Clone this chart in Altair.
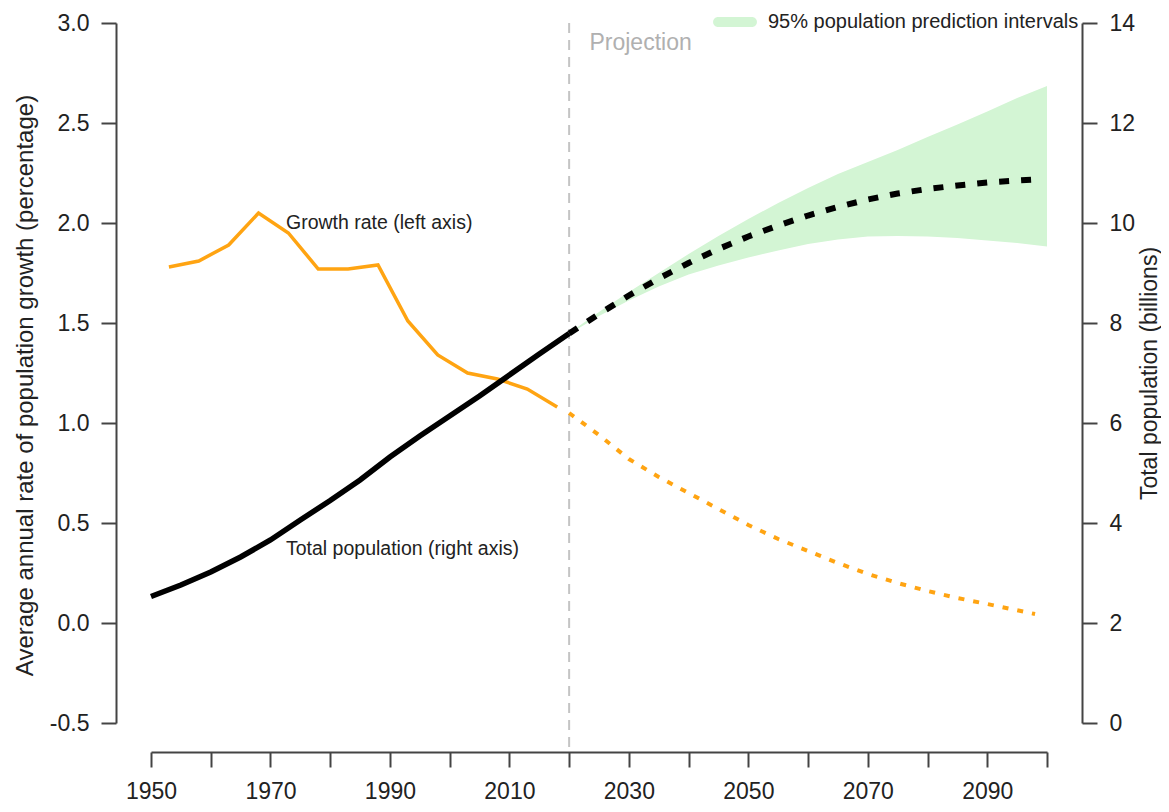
import altair as alt
import pandas as pd

FONT = "Liberation Sans"

# ---- Growth rate (left axis), observed (5-year period midpoints) ----
gr_years = [1953, 1958, 1963, 1968, 1973, 1978, 1983, 1988, 1993, 1998, 2003, 2008, 2013, 2018]
gr_values = [1.78, 1.81, 1.89, 2.05, 1.95, 1.77, 1.77, 1.79, 1.51, 1.34, 1.25, 1.22, 1.17, 1.08]

# ---- Growth rate, projection ----
grp_years = [2020, 2025, 2030, 2035, 2040, 2045, 2050, 2055, 2060, 2065, 2070, 2075, 2080, 2085, 2090, 2098]
grp_values = [1.05, 0.94, 0.82, 0.73, 0.65, 0.57, 0.49, 0.42, 0.36, 0.30, 0.245, 0.20, 0.16, 0.125, 0.095, 0.045]

# ---- Total population (right axis, billions), observed ----
pop_years = [1950, 1955, 1960, 1965, 1970, 1975, 1980, 1985, 1990, 1995, 2000, 2005, 2010, 2015, 2020]
pop_values = [2.53, 2.76, 3.02, 3.32, 3.66, 4.06, 4.45, 4.86, 5.32, 5.74, 6.14, 6.54, 6.96, 7.38, 7.79]

# ---- Total population, median projection ----
popp_years = [2020, 2025, 2030, 2035, 2040, 2045, 2050, 2055, 2060, 2065, 2070, 2075, 2080, 2085, 2090, 2095, 2098]
popp_values = [7.79, 8.18, 8.55, 8.89, 9.20, 9.48, 9.73, 9.95, 10.15, 10.32, 10.47, 10.59, 10.68, 10.75, 10.81, 10.85, 10.87]

# ---- 95% prediction interval ----
band_years = [2020, 2025, 2030, 2035, 2040, 2045, 2050, 2055, 2060, 2065, 2070, 2075, 2080, 2085, 2090, 2095, 2100]
band_low = [7.78, 8.14, 8.45, 8.73, 8.97, 9.15, 9.31, 9.45, 9.58, 9.67, 9.73, 9.74, 9.73, 9.70, 9.65, 9.60, 9.53]
band_high = [7.80, 8.22, 8.62, 9.00, 9.38, 9.74, 10.08, 10.40, 10.70, 10.98, 11.22, 11.46, 11.72, 11.97, 12.23, 12.50, 12.74]
band_label = "95% population prediction intervals"

# ---- annotations ----
ann_texts = ["Growth rate (left axis)", "Total population (right axis)"]
ann_years = [1972.6, 1972.6]
ann_rates = [2.0, 0.37]
proj_text = ["Projection"]
proj_year = [2023.4]
proj_rate = [2.9]
proj_line_year = [2020]
proj_line_top = [3.0]
proj_line_bottom = [-0.645]

x_ticks = list(range(1950, 2101, 10))
left_ticks = [-0.5, 0.0, 0.5, 1.0, 1.5, 2.0, 2.5, 3.0]
right_ticks = [0, 2, 4, 6, 8, 10, 12, 14]

df_gr = pd.DataFrame({"year": gr_years, "rate": gr_values})
df_grp = pd.DataFrame({"year": grp_years, "rate": grp_values})
df_pop = pd.DataFrame({"year": pop_years, "pop": pop_values})
df_popp = pd.DataFrame({"year": popp_years, "pop": popp_values})
df_band = pd.DataFrame({"year": band_years, "pop": band_low, "pop2": band_high,
                        "series": [band_label] * len(band_years)})
df_ann = pd.DataFrame({"year": ann_years, "rate": ann_rates, "text": ann_texts})
df_proj = pd.DataFrame({"year": proj_year, "rate": proj_rate, "text": proj_text})
df_vline = pd.DataFrame({"year": proj_line_year, "rate": proj_line_top, "rate2": proj_line_bottom})

AX = "#444444"
TXT = "#222222"
TICK_FS = 23

x_enc = alt.X(
    "year:Q",
    scale=alt.Scale(domain=[1950, 2100], nice=False, zero=False),
    axis=alt.Axis(
        values=x_ticks, format="d",
        labelExpr="(datum.value - 1950) % 20 == 0 ? format(datum.value, 'd') : ''",
        title=None, grid=False, offset=29, tickSize=15, tickWidth=2, domainWidth=2,
        domainColor=AX, tickColor=AX, labelFontSize=TICK_FS, labelFont=FONT, labelColor=TXT,
        labelPadding=13, labelFlush=False, labelOverlap=False,
    ),
)

left_scale = alt.Scale(domain=[-0.5, 3.0], nice=False, zero=False)
left_axis = alt.Axis(
    orient="left", values=left_ticks,
    labelExpr="datum.value < 0 ? '-' + format(-datum.value, '.1f') : format(datum.value, '.1f')",
    title="Average annual rate of population growth (percentage)",
    grid=False, offset=35, tickSize=15, tickWidth=2, domainWidth=2,
    domainColor=AX, tickColor=AX, labelFontSize=TICK_FS, labelFont=FONT, labelColor=TXT,
    labelPadding=12, titleFontSize=24, titleFont=FONT, titleFontWeight="normal",
    titleColor=TXT, titlePadding=12, titleY=362, titleAlign="center",
    labelFlush=False, labelOverlap=False,
)
y_left = alt.Y("rate:Q", scale=left_scale, axis=left_axis)

right_scale = alt.Scale(domain=[0, 14], nice=False, zero=False)
right_axis = alt.Axis(
    orient="right", values=right_ticks, format="d",
    title="Total population (billions)",
    grid=False, offset=35, tickSize=15, tickWidth=2, domainWidth=2,
    domainColor=AX, tickColor=AX, labelFontSize=TICK_FS, labelFont=FONT, labelColor=TXT,
    labelPadding=12, titleFontSize=23, titleFont=FONT, titleFontWeight="normal",
    titleColor=TXT, titlePadding=4, titleAngle=270, titleBaseline="top",
    labelFlush=False, labelOverlap=False,
)
y_right = alt.Y("pop:Q", scale=right_scale, axis=right_axis)

ORANGE = "#ffa412"

vline = alt.Chart(df_vline).mark_rule(color="#c4c4c4", strokeWidth=2, strokeDash=[10, 7]).encode(
    x=x_enc, y=y_left, y2="rate2:Q"
)
gr_line = alt.Chart(df_gr).mark_line(color=ORANGE, strokeWidth=3.5).encode(x=x_enc, y=y_left)
grp_line = alt.Chart(df_grp).mark_line(color=ORANGE, strokeWidth=4, strokeDash=[6, 9]).encode(x=x_enc, y=y_left)
ann = alt.Chart(df_ann).mark_text(align="left", baseline="middle", fontSize=19.5, font=FONT, color=TXT).encode(
    x=x_enc, y=y_left, text="text:N"
)
proj = alt.Chart(df_proj).mark_text(align="left", baseline="middle", fontSize=23, font=FONT, color="#b0b0b0").encode(
    x=x_enc, y=y_left, text="text:N"
)
left = alt.layer(vline, gr_line, grp_line, ann, proj)

sym = "M-0.77,-0.227L0.77,-0.227A0.227,0.227,0,0,1,0.77,0.227L-0.77,0.227A0.227,0.227,0,0,1,-0.77,-0.227Z"
band = alt.Chart(df_band).mark_area(opacity=1).encode(
    x=x_enc, y=y_right, y2="pop2:Q",
    color=alt.Color(
        "series:N",
        scale=alt.Scale(domain=[band_label], range=["#d3f5d4"]),
        legend=alt.Legend(
            orient="none", legendX=562, legendY=-23, title=None, padding=0,
            symbolType=sym, symbolSize=1936, symbolStrokeWidth=0, symbolOpacity=1,
            labelFontSize=20, labelFont=FONT, labelColor=TXT, labelOffset=11, labelLimit=500,
        ),
    ),
)
pop_line = alt.Chart(df_pop).mark_line(color="black", strokeWidth=5.5).encode(x=x_enc, y=y_right)
popp_line = alt.Chart(df_popp).mark_line(color="black", strokeWidth=6, strokeDash=[10, 12]).encode(x=x_enc, y=y_right)
right = alt.layer(band, pop_line, popp_line)

chart = (
    alt.layer(left, right)
    .resolve_scale(y="independent")
    .properties(
        width=896, height=700,
        autosize=alt.AutoSizeParams(type="none"),
        padding={"left": 143, "top": 15, "right": 114, "bottom": 81},
        background="white",
    )
    .configure_view(stroke=None)
)

chart.save("out.html", embed_options={"renderer": "svg", "actions": False})
